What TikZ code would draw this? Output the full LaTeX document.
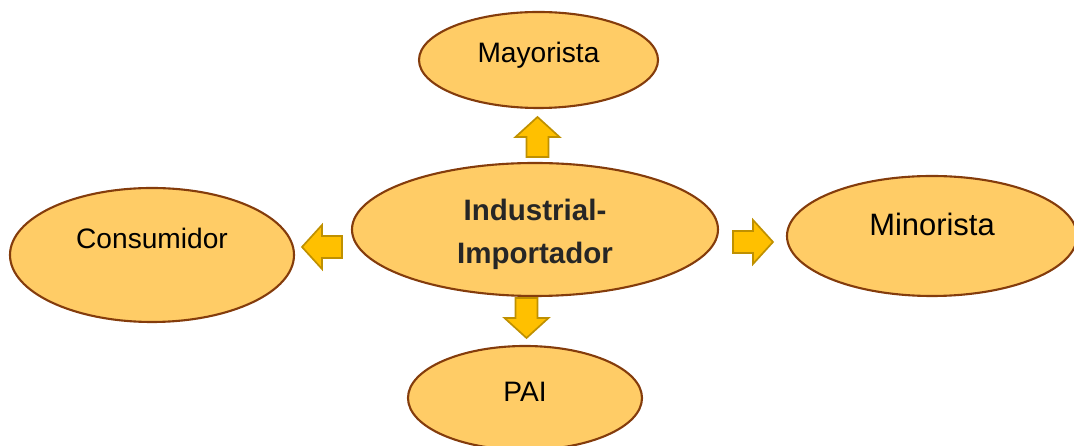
\documentclass[tikz,border=0pt]{standalone}
\usepackage{fontspec}
\setmainfont{Liberation Sans}
\usetikzlibrary{shapes.geometric}
\definecolor{ellfill}{HTML}{FFCC66}
\definecolor{elldraw}{HTML}{843C0C}
\definecolor{arrfill}{HTML}{FFC000}
\definecolor{arrdraw}{HTML}{BF9000}
\tikzset{
	elbox/.style={ellipse,draw=elldraw,fill=ellfill,line width=1.5pt,inner sep=0pt},
	lbl/.style={font=\fontsize{20}{24}\selectfont,text=black},
	arrowfill/.style={fill=arrfill,draw=arrdraw,line width=1.2pt,line join=miter},
	blkarrow/.pic={
		\draw[arrowfill] (0,-11) -- (20,-11) -- (20,-22) -- (40,0) -- (20,22) -- (20,11) -- (0,11) -- cycle;
	}
}

\begin{document}
\begin{tikzpicture}[x=0.025cm,y=0.025cm]
		\useasboundingbox (0,0) rectangle (1074,446);
		% ellipses
		\node[elbox,minimum width=239*0.025cm,minimum height=96*0.025cm] (may) at (538.5,386) {};
		\node[elbox,minimum width=366*0.025cm,minimum height=133*0.025cm] (ind) at (535,216.5) {};
		\node[elbox,minimum width=284*0.025cm,minimum height=134*0.025cm] (cons) at (152,191) {};
		\node[elbox,minimum width=290*0.025cm,minimum height=120*0.025cm] (mino) at (932,210) {};
		\node[elbox,minimum width=234*0.025cm,minimum height=104*0.025cm] (pai) at (525,48) {};
		% labels
		\node[lbl] (maytxt) at ([yshift=5*0.025cm]may.center) {Mayorista};
		\node[lbl,font=\fontsize{21}{30.5}\selectfont\bfseries,text=black!85,align=center] (indtxt) at ([yshift=-5*0.025cm]ind.center) {Industrial-\\Importador};
		\node[lbl] (constxt) at ([yshift=17*0.025cm]cons.center) {Consumidor};
		\node[lbl,font=\fontsize{22}{26}\selectfont] (minotxt) at ([yshift=12*0.025cm]mino.center) {Minorista};
		\node[lbl] (paitxt) at ([yshift=6*0.025cm]pai.center) {PAI};
		% block arrows
		\pic[rotate=90] at (537.5,289) {blkarrow};
		\pic[rotate=-90] at (526.5,148) {blkarrow};
		\pic[rotate=180] at (342,199) {blkarrow};
		\pic at (733,204) {blkarrow};
\end{tikzpicture}
\end{document}
